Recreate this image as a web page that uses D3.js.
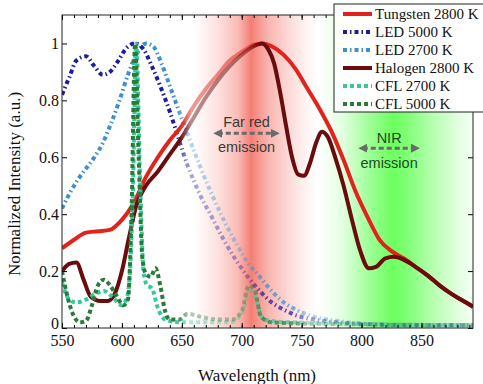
<!DOCTYPE html>
<html>
<head>
<meta charset="utf-8">
<script src="https://cdn.jsdelivr.net/npm/d3@7"></script>
<style>
  body { margin: 0; background: #fff; }
  svg { display: block; }
</style>
</head>
<body>
<svg id="chart" width="483" height="384"></svg>
<script>
// spectra, [wavelength nm, normalized intensity]
var tungsten = [[550,.28],[560,.31],[570,.335],[580,.34],[590,.345],[600,.38],[610,.44],[620,.53],[630,.6],[640,.66],[650,.71],[660,.78],[670,.84],[680,.89],[690,.94],[700,.97],[710,.995],[717,1.0],[725,.99],[735,.96],[745,.91],[755,.84],[765,.77],[775,.69],[785,.59],[795,.48],[805,.39],[815,.31],[825,.27],[835,.245],[845,.215],[855,.185],[865,.15],[875,.12],[885,.095],[893,.075]];
var halogen = [[550,.2],[556,.225],[562,.23],[568,.17],[574,.11],[582,.095],[588,.095],[594,.12],[600,.2],[606,.32],[612,.43],[620,.5],[630,.55],[640,.61],[650,.67],[660,.74],[670,.81],[680,.87],[690,.92],[700,.96],[710,.99],[717,1.0],[722,.98],[727,.93],[732,.83],[737,.71],[742,.6],[747,.54],[752,.535],[757,.58],[762,.65],[767,.69],[772,.67],[778,.6],[785,.5],[792,.38],[799,.27],[806,.21],[812,.215],[820,.245],[827,.25],[835,.24],[845,.215],[855,.185],[865,.15],[875,.12],[885,.095],[893,.075]];
var led5000 = [[550,.82],[556,.88],[562,.94],[570,.955],[577,.92],[584,.89],[590,.9],[597,.94],[604,.985],[611,1.0],[618,.98],[625,.92],[632,.85],[640,.76],[647,.67],[655,.57],[665,.47],[675,.39],[685,.31],[695,.24],[705,.18],[715,.13],[725,.09],[735,.065],[745,.045],[760,.03],[780,.02],[800,.015],[840,.01],[893,.01]];
var led2700 = [[550,.42],[556,.47],[563,.52],[570,.56],[577,.6],[584,.65],[591,.72],[598,.8],[605,.89],[612,.96],[620,1.0],[626,.99],[633,.93],[640,.85],[647,.77],[655,.68],[665,.57],[675,.47],[685,.38],[695,.3],[705,.23],[715,.18],[725,.13],[735,.09],[745,.065],[760,.04],[780,.025],[800,.015],[840,.01],[893,.01]];
var cfl2700 = [[550,.16],[556,.1],[562,.09],[570,.1],[578,.12],[585,.13],[592,.11],[600,.08],[605,.12],[609,.45],[612,1.0],[615,.55],[618,.2],[621,.15],[625,.14],[630,.07],[636,.03],[650,.02],[690,.02],[700,.05],[707,.14],[712,.1],[718,.03],[740,.02],[893,.01]];
var cfl5000 = [[550,.2],[554,.12],[559,.05],[565,.02],[570,.025],[575,.08],[580,.15],[585,.17],[590,.15],[596,.11],[601,.08],[605,.1],[608,.4],[611,1.0],[614,.6],[617,.25],[620,.19],[624,.18],[628,.21],[632,.15],[636,.06],[640,.03],[648,.03],[655,.05],[665,.04],[680,.03],[692,.03],[700,.06],[706,.15],[711,.13],[716,.04],[725,.02],[760,.015],[893,.01]];

var seriesNames = ["Tungsten 2800 K", "LED 5000 K", "LED 2700 K", "Halogen 2800 K", "CFL 2700 K", "CFL 5000 K"];
var xTicks = [550, 600, 650, 700, 750, 800, 850];
var yTicks = [0, 0.2, 0.4, 0.6, 0.8, 1];
var annotationText = [["Far red", "emission"], ["NIR", "emission"]];

var plotL = 62, plotR = 473, plotT = 15, plotB = 328;

var svg = d3.select("#chart");
var defs = svg.append("defs");

var x = d3.scaleLinear().domain([550, 893]).range([plotL, plotR]);
var y = d3.scaleLinear().domain([0, 1.1]).range([plotB, plotT]);

function off(nm) { return ((nm - 550) / (893 - 550) * 100) + "%"; }

function hGrad(id, stops) {
    var g = defs.append("linearGradient").attr("id", id)
        .attr("gradientUnits", "userSpaceOnUse")
        .attr("x1", x(550)).attr("x2", x(893)).attr("y1", 0).attr("y2", 0);
    stops.forEach(function(s) {
        g.append("stop").attr("offset", off(s[0]))
            .attr("stop-color", s[1]).attr("stop-opacity", s[2] == null ? 1 : s[2]);
    });
}

// coloured emission bands
hGrad("redBand", [[550,"#ef3b2c",0],[660,"#ef3b2c",0],[680,"#ef3b2c",.15],[697,"#ef3b2c",.35],[704,"#ef3b2c",.55],[708,"#ef3b2c",.66],[713,"#ef3b2c",.55],[722,"#ef3b2c",.38],[738,"#ef3b2c",.2],[752,"#ef3b2c",.07],[762,"#ef3b2c",0],[893,"#ef3b2c",0]]);
hGrad("greenBand", [[550,"#33ff22",0],[765,"#33ff22",0],[785,"#33ff22",.15],[805,"#33ff22",.45],[826,"#33ff22",.72],[840,"#33ff22",.6],[860,"#33ff22",.35],[880,"#33ff22",.15],[893,"#33ff22",.05]]);

// fade masks
hGrad("fadeCool", [[550,"#fff"],[645,"#fff"],[656,"#666"],[705,"#666"],[718,"#bbb"],[742,"#bbb"],[755,"#666"],[893,"#666"]]);
hGrad("fadeWarm", [[550,"#fff"],[648,"#fff"],[658,"#777"],[705,"#888"],[716,"#fff"],[893,"#fff"]]);

function mask(id, grad) {
    defs.append("mask").attr("id", id).attr("maskUnits", "userSpaceOnUse")
        .attr("x", 0).attr("y", 0).attr("width", 483).attr("height", 384)
        .append("rect").attr("x", 0).attr("y", 0).attr("width", 483).attr("height", 384)
        .attr("fill", "url(#" + grad + ")");
}
mask("mCool", "fadeCool");
mask("mWarm", "fadeWarm");

defs.append("clipPath").attr("id", "plotClip")
    .append("rect").attr("x", plotL).attr("y", plotT).attr("width", plotR - plotL).attr("height", plotB - plotT);

svg.append("rect").attr("x", plotL).attr("y", plotT).attr("width", plotR - plotL).attr("height", plotB - plotT)
    .attr("fill", "url(#redBand)");
svg.append("rect").attr("x", plotL).attr("y", plotT).attr("width", plotR - plotL).attr("height", plotB - plotT)
    .attr("fill", "url(#greenBand)");

var line = d3.line()
    .x(function(d) { return x(d[0]); })
    .y(function(d) { return y(d[1]); })
    .curve(d3.curveMonotoneX);

var styles = {
    tungsten: { color: "#e3221c", width: 4, dash: null, mask: "mWarm" },
    led5000: { color: "#1c1ca0", width: 4, dash: "4,3,1.5,3", mask: "mCool" },
    led2700: { color: "#3d8fd1", width: 4, dash: "4,3,1.5,3", mask: "mCool" },
    halogen: { color: "#6a0c0e", width: 4, dash: null, mask: "mWarm" },
    cfl2700: { color: "#35c99c", width: 4, dash: "4,3", mask: "mCool" },
    cfl5000: { color: "#2a7a3a", width: 4, dash: "4,3", mask: "mCool" }
};
var seriesData = { tungsten: tungsten, led5000: led5000, led2700: led2700, halogen: halogen, cfl2700: cfl2700, cfl5000: cfl5000 };
var drawOrder = ["led2700", "led5000", "tungsten", "halogen", "cfl2700", "cfl5000"];

var curves = svg.append("g").attr("clip-path", "url(#plotClip)");
drawOrder.forEach(function(k) {
    var s = styles[k];
    curves.append("g").attr("mask", "url(#" + s.mask + ")")
        .append("path")
        .datum(seriesData[k])
        .attr("d", line)
        .attr("fill", "none")
        .attr("stroke", s.color)
        .attr("stroke-width", s.width)
        .attr("stroke-dasharray", s.dash)
        .attr("stroke-linejoin", "round");
});

// axes
var serif = "'Liberation Serif', 'Times New Roman', serif";
var minor = d3.range(550, 891, 10);

function styleAxis(g) {
    g.select(".domain").remove();
    g.selectAll("line").attr("stroke", "#000");
    g.selectAll("text").attr("font-family", serif).attr("font-size", "16px").attr("fill", "#111");
}

svg.append("g").attr("transform", "translate(0," + plotB + ")")
    .call(d3.axisBottom(x).tickValues(xTicks).tickSize(-5).tickPadding(7))
    .call(styleAxis);
svg.append("g").attr("transform", "translate(0," + plotB + ")")
    .call(d3.axisBottom(x).tickValues(minor).tickSize(-3).tickFormat(""))
    .call(styleAxis);
svg.append("g").attr("transform", "translate(0," + plotT + ")")
    .call(d3.axisTop(x).tickValues(minor).tickSize(-3).tickFormat(""))
    .call(styleAxis);
svg.append("g").attr("transform", "translate(0," + plotT + ")")
    .call(d3.axisTop(x).tickValues(xTicks).tickSize(-5).tickFormat(""))
    .call(styleAxis);
var yAxisG = svg.append("g").attr("transform", "translate(" + plotL + ",0)")
    .call(d3.axisLeft(y).tickValues(yTicks).tickSize(-5).tickPadding(3)
        .tickFormat(function(d) { return (d === 0 || d === 1) ? String(d) : d3.format(".1f")(d); }))
    .call(styleAxis);
// the zero label sits just above the corner, as in the original
yAxisG.selectAll(".tick").filter(function(d) { return d === 0; }).select("text").attr("dy", "0.05em");
svg.append("g").attr("transform", "translate(" + plotR + ",0)")
    .call(d3.axisRight(y).tickValues(yTicks).tickSize(-5).tickFormat(""))
    .call(styleAxis);

svg.append("rect").attr("x", plotL).attr("y", plotT).attr("width", plotR - plotL).attr("height", plotB - plotT)
    .attr("fill", "none").attr("stroke", "#222").attr("stroke-width", 1);

svg.append("text")
    .attr("x", 257).attr("y", 381)
    .attr("text-anchor", "middle")
    .attr("font-family", serif).attr("font-size", "17px").attr("fill", "#111")
    .text("Wavelength (nm)");

svg.append("text")
    .attr("transform", "translate(20,184) rotate(-90)")
    .attr("text-anchor", "middle")
    .attr("font-family", serif).attr("font-size", "17px").attr("fill", "#111")
    .text("Normalized Intensity (a.u.)");

// emission annotations
defs.append("marker").attr("id", "arrowHead")
    .attr("viewBox", "0 0 10 10").attr("refX", 5).attr("refY", 5)
    .attr("markerWidth", 3).attr("markerHeight", 3).attr("orient", "auto-start-reverse")
    .append("path").attr("d", "M0,0 L10,5 L0,10 z").attr("fill", "#6a6a6a");

function annotation(x0, x1, v, idx, dTop, dBottom, color) {
    var ay = y(v);
    svg.append("line")
        .attr("x1", x(x0) + 6).attr("x2", x(x1) - 6).attr("y1", ay).attr("y2", ay)
        .attr("stroke", "#6a6a6a").attr("stroke-width", 3).attr("stroke-dasharray", "5,3")
        .attr("marker-start", "url(#arrowHead)").attr("marker-end", "url(#arrowHead)");
    var cx = (x(x0) + x(x1)) / 2;
    svg.append("text").attr("x", cx).attr("y", ay + dTop)
        .attr("text-anchor", "middle").attr("font-family", "'Liberation Sans', Arial, sans-serif")
        .attr("font-size", "14.5px").attr("fill", color).text(annotationText[idx][0]);
    svg.append("text").attr("x", cx).attr("y", ay + dBottom)
        .attr("text-anchor", "middle").attr("font-family", "'Liberation Sans', Arial, sans-serif")
        .attr("font-size", "14.5px").attr("fill", color).text(annotationText[idx][1]);
}
annotation(675, 733, 0.684, 0, -6, 19, "#3a3a3a");
annotation(796, 850, 0.632, 1, -5, 20, "#1f4a22");

// legend
var legend = svg.append("g");
legend.append("rect").attr("x", 334).attr("y", 4).attr("width", 160).attr("height", 108)
    .attr("fill", "#fff").attr("stroke", "#222").attr("stroke-width", 1);
var legendKeys = ["tungsten", "led5000", "led2700", "halogen", "cfl2700", "cfl5000"];
legendKeys.forEach(function(k, i) {
    var s = styles[k];
    var ly = 14 + i * 18;
    legend.append("line").attr("x1", 343).attr("x2", 372).attr("y1", ly).attr("y2", ly)
        .attr("stroke", s.color).attr("stroke-width", s.width).attr("stroke-dasharray", s.dash);
    legend.append("text").attr("x", 375).attr("y", ly + 5)
        .attr("font-family", serif).attr("font-size", "15px").attr("fill", "#111")
        .text(seriesNames[i]);
});
</script>
</body>
</html>
